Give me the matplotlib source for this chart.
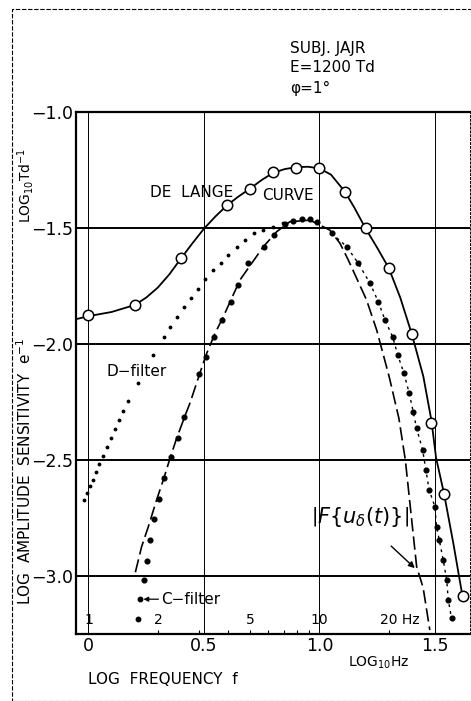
import matplotlib
matplotlib.use('Agg')
import matplotlib.pyplot as plt
import numpy as np
from matplotlib.patches import Rectangle

plt.rcParams['font.family'] = ['DejaVu Sans']

# De Lange curve, measured points (circles)
delange_x = [0.0, 0.2, 0.4, 0.6, 0.7, 0.8, 0.9, 1.0, 1.11, 1.2, 1.3, 1.4, 1.483, 1.54, 1.62]
delange_y = [-1.875, -1.832, -1.629, -1.401, -1.332, -1.259, -1.241, -1.241, -1.343, -1.502,
             -1.672, -1.957, -2.341, -2.647, -3.086]

# smooth hand drawn line through them
line_x = [-0.054, 0.0, 0.1, 0.2, 0.25, 0.3, 0.35, 0.4, 0.45, 0.5, 0.55, 0.6, 0.65, 0.7, 0.75,
          0.8, 0.85, 0.9, 0.95, 1.0, 1.05, 1.11, 1.15, 1.2, 1.25, 1.3, 1.35, 1.4, 1.45, 1.485,
          1.505, 1.54, 1.58, 1.62]
line_y = [-1.893, -1.880, -1.862, -1.832, -1.800, -1.757, -1.700, -1.632, -1.566, -1.503,
          -1.450, -1.402, -1.364, -1.330, -1.293, -1.262, -1.246, -1.238, -1.236, -1.243,
          -1.270, -1.343, -1.410, -1.502, -1.585, -1.672, -1.800, -1.957, -2.140, -2.330,
          -2.490, -2.647, -2.860, -3.090]

# D-filter (small dots)
dfil_x = [-0.019, -0.005, 0.006, 0.018, 0.032, 0.047, 0.064, 0.079, 0.096, 0.115, 0.133,
          0.151, 0.172, 0.213, 0.281, 0.327, 0.353, 0.382, 0.413, 0.444, 0.473, 0.504, 0.538,
          0.572, 0.603, 0.641, 0.677, 0.716, 0.757, 0.797, 0.841, 0.884]
dfil_y = [-2.672, -2.644, -2.612, -2.586, -2.550, -2.517, -2.481, -2.443, -2.404, -2.366,
          -2.328, -2.287, -2.246, -2.169, -2.047, -1.971, -1.928, -1.885, -1.842, -1.800,
          -1.763, -1.721, -1.681, -1.650, -1.616, -1.581, -1.552, -1.523, -1.509, -1.494,
          -1.480, -1.470]

# C-filter (large dots), rising side and peak
cfil_x = [0.242, 0.255, 0.268, 0.285, 0.304, 0.327, 0.356, 0.386, 0.413, 0.480, 0.507, 0.545,
          0.577, 0.616, 0.648, 0.692, 0.760, 0.803, 0.851, 0.887, 0.925, 0.959, 0.988]
cfil_y = [-3.019, -2.937, -2.846, -2.754, -2.667, -2.576, -2.487, -2.405, -2.315, -2.130,
          -2.055, -1.969, -1.897, -1.819, -1.746, -1.652, -1.581, -1.531, -1.483, -1.468,
          -1.462, -1.462, -1.473]

# falling side, C- and D-filter points overlap
fall_x = [1.053, 1.118, 1.168, 1.219, 1.255, 1.284, 1.317, 1.339, 1.366, 1.389, 1.406, 1.421,
          1.447, 1.461, 1.475, 1.500, 1.507, 1.519, 1.536, 1.551, 1.558, 1.572]
fall_y = [-1.523, -1.580, -1.652, -1.738, -1.818, -1.897, -1.969, -2.047, -2.126, -2.213,
          -2.292, -2.364, -2.457, -2.543, -2.629, -2.701, -2.787, -2.845, -2.931, -3.017,
          -3.103, -3.182]

# |F{u_delta(t)}| dashed curve
four_x = [0.203, 0.230, 0.259, 0.295, 0.324, 0.353, 0.382, 0.422, 0.439, 0.483, 0.512, 0.548,
          0.584, 0.656, 0.757, 0.815, 0.872, 0.959, 1.045, 1.089, 1.125, 1.204, 1.248, 1.302,
          1.344, 1.372, 1.421, 1.449, 1.478]
four_y = [-2.984, -2.874, -2.788, -2.672, -2.586, -2.493, -2.406, -2.299, -2.256, -2.124,
          -2.040, -1.954, -1.882, -1.724, -1.581, -1.516, -1.473, -1.466, -1.509, -1.566,
          -1.638, -1.810, -1.940, -2.141, -2.320, -2.500, -2.960, -3.050, -3.233]

# extra C-filter points near the bottom
extra_x = [0.222, 0.213]
extra_y = [-3.10, -3.187]

hz_labels = ['1', '2', '5', '10', '20 Hz']
hz_values = [1, 2, 5, 10, 20]
minor_hz = [2, 3, 4, 5, 6, 7, 8, 9, 10, 20]

fig = plt.figure(figsize=(4.71, 7.01), dpi=100)
ax = fig.add_axes([76 / 471, 1 - 634 / 701, 394 / 471, 522 / 701])

# frame around the whole figure
fig.add_artist(Rectangle((12 / 471, 0), 1.0, 1 - 9 / 701, transform=fig.transFigure,
                         fill=False, lw=0.8, ls=(0, (4, 1.5)), color='black'))

for yv in [-1.5, -2.0, -2.5, -3.0]:
    ax.axhline(yv, color='black', lw=1.4, zorder=1)
for xv in [0.0, 0.5, 1.0, 1.5]:
    ax.axvline(xv, color='black', lw=0.7, zorder=1)

ax.plot(line_x, line_y, color='black', lw=1.3, zorder=3)
ax.plot(delange_x, delange_y, 'o', ms=7.5, mfc='white', mec='black', mew=1.1, zorder=4)

ax.plot(four_x, four_y, color='black', lw=1.2, ls=(0, (8, 3)), zorder=2)

ax.plot(dfil_x, dfil_y, '.', color='black', ms=3.5, zorder=3)
ax.plot(cfil_x, cfil_y, 'o', color='black', ms=3.4, zorder=3)
ax.plot(fall_x, fall_y, color='black', lw=1.0, ls=(0, (2, 3)), zorder=3)
ax.plot(fall_x, fall_y, 'o', color='black', ms=3.4, zorder=3)
ax.plot(extra_x, extra_y, 'o', color='black', ms=3.2, zorder=3)

ax.set_xlim(-0.054, 1.652)
ax.set_ylim(-3.25, -1.0)

for s in ['top', 'left', 'bottom']:
    ax.spines[s].set_linewidth(1.6)
ax.spines['right'].set_linewidth(0.7)
ax.spines['right'].set_linestyle((0, (2, 2)))

ax.set_xticks([0, 0.5, 1.0, 1.5])
ax.set_xticklabels(['0', '0.5', '1.0', '1.5'])
ax.set_yticks([-1.0, -1.5, -2.0, -2.5, -3.0])
ax.set_yticklabels(['\u22121.0', '\u22121.5', '\u22122.0', '\u22122.5', '\u22123.0'])
ax.tick_params(axis='both', length=0, labelsize=12.5, pad=2)
ax.set_xticks(np.log10(minor_hz), minor=True)
ax.tick_params(axis='x', which='minor', direction='in', length=3, width=0.8)

for lab, hz in zip(hz_labels, hz_values):
    ax.text(np.log10(hz), -3.19, lab, ha='center' if hz < 20 else 'left',
            va='center', fontsize=10)
ax.texts[-1].set_position((np.log10(20) - 0.04, -3.19))

ax.text(0.266, -1.349, 'DE  LANGE', fontsize=11, va='center')
ax.text(0.751, -1.358, 'CURVE', fontsize=11, va='center')
ax.text(0.08, -2.12, 'D\u2212filter', fontsize=11, va='center')
ax.annotate('C\u2212filter', xy=(0.238, -3.10), xytext=(0.315, -3.10), fontsize=11, va='center',
            arrowprops=dict(arrowstyle='-|>', color='black', lw=0.9, mutation_scale=7,
                            shrinkA=0, shrinkB=0))
ax.annotate(r'$\left|F\left\{u_{\delta}(t)\right\}\right|$', xy=(1.413, -2.966),
            xytext=(1.176, -2.746), fontsize=15, ha='center', va='center',
            arrowprops=dict(arrowstyle='-|>', color='black', lw=1.0, mutation_scale=9,
                            shrinkA=15, shrinkB=0))

fig.text(290 / 471, 1 - 49 / 701, 'SUBJ. JAJR', fontsize=11, va='center')
fig.text(290 / 471, 1 - 68 / 701, 'E=1200 Td', fontsize=11, va='center')
fig.text(290 / 471, 1 - 88 / 701, '\u03c6=1\u00b0', fontsize=11, va='center')

fig.text(25 / 471, 1 - 471 / 701, 'LOG  AMPLITUDE  SENSITIVITY  e$^{-1}$', rotation=90,
         fontsize=11, ha='center', va='center')
fig.text(25 / 471, 1 - 185 / 701, 'LOG$_{10}$Td$^{-1}$', rotation=90, fontsize=10,
         ha='center', va='center')
fig.text(88 / 471, 1 - 680 / 701, 'LOG  FREQUENCY  f', fontsize=11, va='center')
fig.text(348 / 471, 1 - 663 / 701, 'LOG$_{10}$Hz', fontsize=10, va='center')

fig.savefig('out.png', dpi=100)
